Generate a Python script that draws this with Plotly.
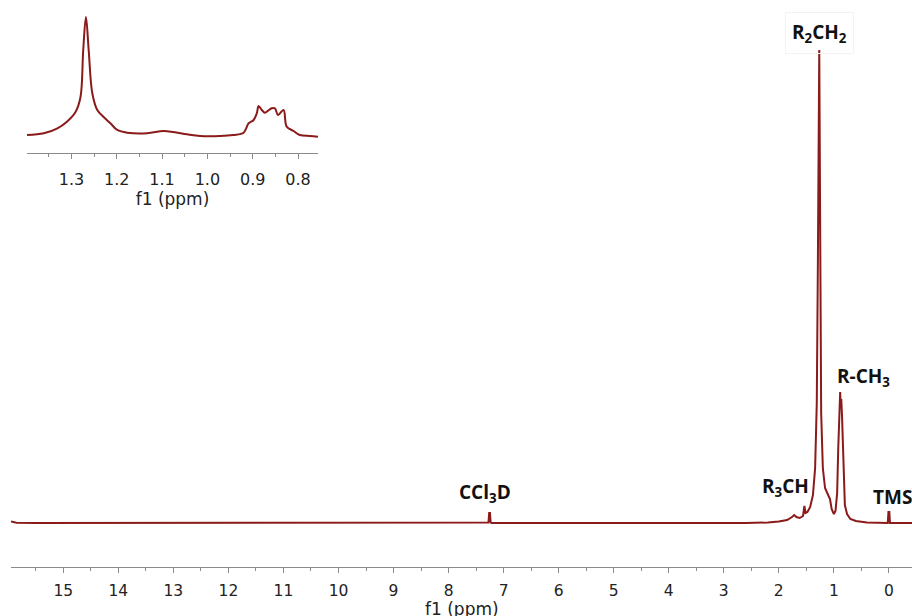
import plotly.graph_objects as go

# ---- main spectrum (ppm, relative intensity) ----
main_ppm = [15.95, 15.85, 15.5, 7.30, 7.275, 7.262, 7.248, 7.235, 7.22, 2.6, 2.2, 2.0, 1.85, 1.76,
            1.72, 1.68, 1.62, 1.56, 1.535, 1.515, 1.48, 1.43, 1.38, 1.34, 1.31, 1.29, 1.265,
            1.245, 1.23, 1.20, 1.16, 1.12, 1.09, 1.07, 1.04, 1.00, 0.97, 0.94, 0.92, 0.90,
            0.885, 0.875, 0.865, 0.85, 0.835, 0.82, 0.80, 0.76, 0.70, 0.60, 0.40, 0.02,
            0.008, -0.008, -0.02, -0.42]
main_int = [1.5, 0.3, 0, 0, 0.5, 10, 10, 0.5, 0, 0, 0.5, 1.5, 3, 6,
            8, 6, 5, 7, 17, 10, 11, 16, 28, 55, 120, 260, 473,
            260, 110, 55, 35, 30, 27, 24, 14, 9, 12, 30, 75, 115,
            131, 115, 124, 105, 70, 35, 18, 9, 4, 2, 0.5, 0,
            11, 11, 0, 0]

# ---- inset spectrum ----
inset_ppm = [1.398, 1.361, 1.331, 1.31, 1.291, 1.28, 1.274, 1.268, 1.262, 1.254, 1.243, 1.229,
             1.214, 1.199, 1.177, 1.133, 1.097, 1.075, 1.045, 1.016, 0.972, 0.943, 0.920,
             0.909, 0.898, 0.891, 0.887, 0.880, 0.873, 0.866, 0.858, 0.851, 0.844, 0.832,
             0.825, 0.810, 0.796, 0.774, 0.756]
inset_int = [2, 3.7, 8.7, 15.3, 25, 40, 87, 120, 87, 43.7, 27, 20,
             13.7, 7, 4.3, 3.7, 6, 5, 2.7, 1, 1, 2, 4.3,
             13.7, 17, 23.7, 31, 27, 24.3, 26.3, 28.7, 28.7, 22, 27,
             10.3, 6, 2, 1, 0.3]

main_ticks = list(range(0, 16))
inset_ticks = [1.3, 1.2, 1.1, 1.0, 0.9, 0.8]
inset_tick_labels = ["1.3", "1.2", "1.1", "1.0", "0.9", "0.8"]

labels = ["R<sub>2</sub>CH<sub>2</sub>", "R-CH<sub>3</sub>", "R<sub>3</sub>CH", "TMS", "CCl<sub>3</sub>D"]
label_x = [1.253, 0.454, 1.87, -0.06, 7.34]
label_y = [490, 146, 36, 26, 30]
axis_title = "f1 (ppm)"

LINE = "#8b1a1a"
TXT = "#222222"
AX = "#8a8a8a"


def axis_style(size):
    return dict(showgrid=False, zeroline=False, showline=True, linecolor=AX, linewidth=1,
                ticks="outside", tickcolor=AX, ticklen=5, tickwidth=1,
                tickfont=dict(family="DejaVu Sans", size=size, color=TXT))


fig = go.Figure()
fig.add_trace(go.Scatter(x=main_ppm, y=main_int, mode="lines",
                         line=dict(color=LINE, width=2), xaxis="x", yaxis="y",
                         hoverinfo="skip", showlegend=False))
fig.add_trace(go.Scatter(x=inset_ppm, y=inset_int, mode="lines", line_shape="spline",
                         line=dict(color=LINE, width=2), xaxis="x2", yaxis="y2",
                         hoverinfo="skip", showlegend=False))

fig.update_layout(
    width=912, height=616,
    margin=dict(l=11, r=0, t=5, b=49),
    paper_bgcolor="white", plot_bgcolor="white",
    xaxis=dict(range=[15.95, -0.42], tickvals=main_ticks, ticktext=[str(t) for t in main_ticks],
               minor=dict(dtick=0.5, ticks="outside", ticklen=3, tickcolor=AX),
               ticklabelstandoff=4,
               anchor="y", domain=[0, 1], **axis_style(15.5)),
    yaxis=dict(range=[-44, 518], visible=False, domain=[0, 1]),
    xaxis2=dict(range=[1.398, 0.756], tickvals=inset_ticks, ticktext=inset_tick_labels,
                minor=dict(dtick=0.05, ticks="outside", ticklen=3, tickcolor=AX),
                ticklabelstandoff=7,
                title=dict(text=axis_title, font=dict(family="DejaVu Sans", size=17, color=TXT), standoff=0),
                anchor="y2", domain=[0.0178, 0.3407], **axis_style(16)),
    yaxis2=dict(range=[-16, 127], visible=False, domain=[0.7367, 0.9911], anchor="x2"),
)

# main x-axis title (sits at the very bottom edge, as in the reference)
fig.add_annotation(x=0.5, y=-0.0747, xref="paper", yref="paper", xanchor="center", yanchor="middle",
                   text=axis_title, showarrow=False,
                   font=dict(family="DejaVu Sans", size=17, color=TXT))

for i, (t, x, y) in enumerate(zip(labels, label_x, label_y)):
    fig.add_annotation(x=x, y=y, xref="x", yref="y", text="<b>" + t + "</b>", showarrow=False,
                       font=dict(family="Open Sans", size=19, color="#111111"),
                       bordercolor="#f3f3f3" if i == 0 else None, borderwidth=1 if i == 0 else 0,
                       borderpad=6 if i == 0 else 1)

fig.write_html("out.html")
